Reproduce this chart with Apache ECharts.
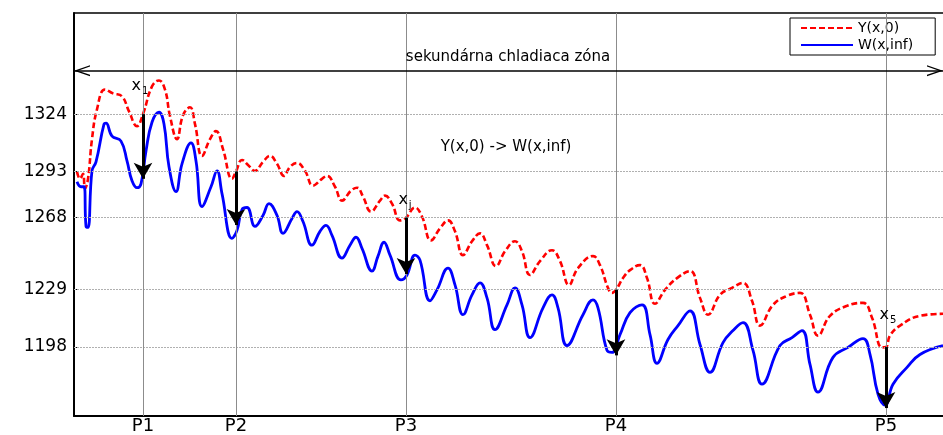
<!DOCTYPE html>
<html><head><meta charset="utf-8">
<script src="https://cdn.jsdelivr.net/npm/echarts@6/dist/echarts.min.js"></script>
<style>html,body{margin:0;padding:0;background:#fff}#c{width:943px;height:435px}</style>
</head><body><div id="c"></div>
<script>
// Tick positions along the strand and their labels
const positionX = [69, 162, 332, 542, 812];
const positionLabels = ['P1', 'P2', 'P3', 'P4', 'P5'];
const yTickValues = [1198, 1229, 1268, 1293, 1324];

// Y(x,0) (red dashed)
const redX = [3,6,9,11,14,18,23,31,39,48,55,63,69,78,85,91,96,103,109,116,121,128,136,142,149,158,162,168,174,181,189,196,203,210,216,223,231,239,248,253,261,268,277,283,289,297,306,311,318,326,332,341,348,357,366,374,381,389,398,406,413,422,431,441,448,456,466,478,486,495,504,519,526,534,538,542,549,556,566,573,581,591,603,616,626,634,646,658,669,678,686,699,713,726,736,744,756,773,789,798,808,812,816,826,846,869];
const redY = [1292.8,1289.0,1291.7,1283.7,1289.0,1310.5,1326.6,1337.3,1335.2,1333.6,1325.5,1317.5,1324,1339.0,1342.2,1337.3,1322.9,1310.5,1323.4,1327.7,1318.6,1301.4,1310.5,1314.8,1305.1,1289.0,1293,1299.2,1296.5,1293.3,1298.2,1301.4,1297.1,1290.6,1295.5,1297.6,1293.3,1285.3,1289.0,1290.6,1284.7,1277.2,1282.6,1284.2,1279.4,1271.3,1277.2,1279.9,1275.6,1266.5,1268,1273.5,1268.6,1255.7,1262.2,1266.5,1260.6,1247.7,1255.2,1259.5,1253.1,1241.8,1249.8,1255.2,1249.8,1237.0,1244.5,1250.4,1244.5,1231.6,1240.7,1247.2,1242.3,1230.0,1227.3,1229,1235.3,1239.6,1242.3,1235.3,1221.4,1228.9,1235.3,1239.1,1224.6,1215.5,1226.2,1230.0,1232.7,1223.0,1209.6,1220.8,1225.7,1227.3,1215.5,1204.2,1214.9,1220.3,1221.9,1213.9,1197.8,1198,1204.2,1209.6,1214.9,1216.0];

// W(x,inf) (blue solid)
const blueX = [3,7,10,12,14,18,22,30,32,38,47,53,58,63,67,72,78,85,90,95,102,108,117,122,128,137,143,148,158,163,168,173,181,189,195,203,209,218,223,229,238,246,252,258,268,276,282,288,298,304,310,316,327,333,341,346,356,363,374,381,389,398,406,413,421,433,441,448,456,469,478,484,493,509,519,524,533,538,546,556,568,576,583,594,604,616,626,636,649,659,669,679,688,706,718,728,736,744,759,774,789,796,804,811,819,833,846,869];
const blueY = [1287.4,1284.7,1284.7,1263.3,1262.7,1293.3,1298.2,1318.6,1319.1,1312.1,1309.4,1298.7,1288.0,1284.2,1286.3,1304.1,1319.6,1325.0,1318.6,1295.5,1282.1,1297.1,1308.4,1298.7,1274.0,1284.7,1293.3,1281.0,1256.8,1261.1,1272.4,1273.5,1263.3,1269.2,1275.6,1269.2,1259.5,1267.6,1271.3,1265.9,1253.1,1260.6,1263.8,1258.4,1246.1,1253.1,1257.4,1251.4,1239.1,1247.2,1254.7,1247.7,1234.3,1237.0,1247.7,1245.0,1223.0,1228.9,1240.7,1231.6,1215.5,1226.2,1232.7,1224.6,1207.4,1220.8,1230.0,1220.8,1203.1,1219.2,1226.2,1219.2,1198.8,1215.5,1223.5,1219.2,1196.2,1195.1,1204.7,1216.6,1220.8,1204.7,1189.2,1202.1,1209.6,1217.6,1199.4,1184.3,1200.4,1206.9,1211.2,1196.2,1177.9,1198.8,1203.1,1206.9,1188.6,1173.6,1192.4,1197.8,1202.6,1194.0,1172.5,1166.6,1177.9,1187.0,1194.0,1198.8];

// Transition arrows Y(x,0) -> W(x,inf) at P1..P5
const arrowFrom = [1324, 1293, 1268, 1229, 1198];
const arrowTo = [1289.0, 1264.0, 1237.5, 1193.5, 1165.0];
const subscripts = ['1', 'j', '5'];
const zoneLevel = 1347.5;

const xMin = 0, xMax = 869, yMin = 1160.7, yMax = 1378.7;
const FONT = 'DejaVu Sans';

const zip = (xs, ys) => xs.map((x, i) => [x, ys[i]]);
// open chevron whose tip sits at the centre of its bounding box
const chevron = 'path://M10,20L20,40L17.5,40L10,25L2.5,40L0,40ZM10,0L10.01,0L10,0.01Z';

const gridLines = [
  ...yTickValues.map(v => ({ yAxis: v, lineStyle: { color: '#b0b0b0', width: 1, type: [2, 1] } })),
  ...positionX.map(v => ({ xAxis: v, lineStyle: { color: '#8c8c8c', width: 1, type: 'solid' } }))
];

const arrows = positionX.map((x, i) => [{ coord: [x, arrowFrom[i]] }, { coord: [x, arrowTo[i]] }]);

const subLabel = (s) => ({
  show: true, position: 'inside', color: '#000',
  formatter: '{a|x}{b|' + s + '}',
  rich: {
    a: { fontSize: 16, fontFamily: FONT, color: '#000' },
    b: { fontSize: 10, fontFamily: FONT, color: '#000', padding: [11, 0, 0, 1] }
  }
});

const option = {
  animation: false,
  backgroundColor: '#fff',
  grid: { left: 74, right: 0, top: 13, bottom: 16, containLabel: false },
  legend: {
    data: [
      { name: 'Y(x,0)', itemStyle: { opacity: 0 } },
      { name: 'W(x,inf)', itemStyle: { opacity: 0 } }
    ],
    orient: 'vertical', left: 790, top: 18,
    padding: [3, 22, 3, 10], itemGap: 3, itemWidth: 52, itemHeight: 14, itemTextGap: 5,
    borderColor: '#000', borderWidth: 1, backgroundColor: '#fff',
    textStyle: { fontFamily: FONT, fontSize: 14, color: '#000' }
  },
  xAxis: [{
    type: 'value', min: xMin, max: xMax, position: 'bottom',
    axisLine: { show: true, onZero: false, lineStyle: { color: '#000', width: 2 } },
    axisTick: { show: true, inside: true, length: 4, customValues: positionX, lineStyle: { color: '#000' } },
    axisLabel: {
      show: true, customValues: positionX, margin: 1,
      formatter: v => positionLabels[positionX.indexOf(v)] || '',
      fontFamily: FONT, fontSize: 18, color: '#000'
    },
    splitLine: { show: false }
  }, {
    type: 'value', min: xMin, max: xMax, position: 'top',
    axisLine: { show: true, onZero: false, lineStyle: { color: '#000', width: 1.5 } },
    axisTick: { show: true, inside: true, length: 4, customValues: positionX, lineStyle: { color: '#000' } },
    axisLabel: { show: false },
    splitLine: { show: false }
  }],
  yAxis: {
    type: 'value', min: yMin, max: yMax,
    axisLine: { show: true, onZero: false, lineStyle: { color: '#000', width: 2 } },
    axisTick: { show: true, inside: true, length: 5, customValues: yTickValues, lineStyle: { color: '#000' } },
    axisLabel: { show: true, customValues: yTickValues, margin: 7, formatter: v => String(v), fontFamily: FONT, fontSize: 17, color: '#000' },
    splitLine: { show: false }
  },
  series: [
    {
      name: 'grid', type: 'line', data: [], z: 1, silent: true,
      markLine: { silent: true, symbol: ['none', 'none'], label: { show: false }, animation: false, data: gridLines }
    },
    {
      name: 'Y(x,0)', type: 'line', data: zip(redX, redY), z: 3,
      smooth: 0.45, showSymbol: false, symbol: 'none',
      lineStyle: { color: '#ff0000', width: 2.6, type: [6, 3] },
      itemStyle: { color: '#ff0000' }
    },
    {
      name: 'W(x,inf)', type: 'line', data: zip(blueX, blueY), z: 3,
      smooth: 0.45, showSymbol: false, symbol: 'none',
      lineStyle: { color: '#0000ff', width: 2.8, type: 'solid' },
      itemStyle: { color: '#0000ff' }
    },
    {
      name: 'notes', type: 'line', data: [], z: 5, silent: true,
      markLine: {
        silent: true, animation: false, label: { show: false },
        data: [
          ...arrows.map(a => [{ ...a[0], symbol: 'none', lineStyle: { color: '#000', width: 3, type: 'solid' } },
                               { ...a[1], symbol: 'arrow', symbolSize: [14, 16] }]),
          [{ coord: [xMin, zoneLevel], symbol: chevron, symbolSize: [11, 32], lineStyle: { color: '#000', width: 1.5, type: 'solid' } },
           { coord: [xMax, zoneLevel], symbol: chevron, symbolSize: [11, 32] }]
        ]
      },
      markPoint: {
        silent: true, animation: false, symbol: 'circle', symbolSize: 0,
        data: [
          { coord: [434, 1355.1], label: { show: true, position: 'inside', formatter: 'sekundárna chladiaca zóna', fontFamily: FONT, fontSize: 15, color: '#000' } },
          { coord: [432, 1306.2], label: { show: true, position: 'inside', formatter: 'Y(x,0) -> W(x,inf)', fontFamily: FONT, fontSize: 15, color: '#000' } },
          { coord: [66, 1339.5], label: subLabel(subscripts[0]) },
          { coord: [331, 1277.7], label: subLabel(subscripts[1]) },
          { coord: [814, 1215.5], label: subLabel(subscripts[2]) }
        ]
      }
    }
  ]
};

const chart = echarts.init(document.getElementById('c'));
chart.setOption(option);
</script>
</body></html>
